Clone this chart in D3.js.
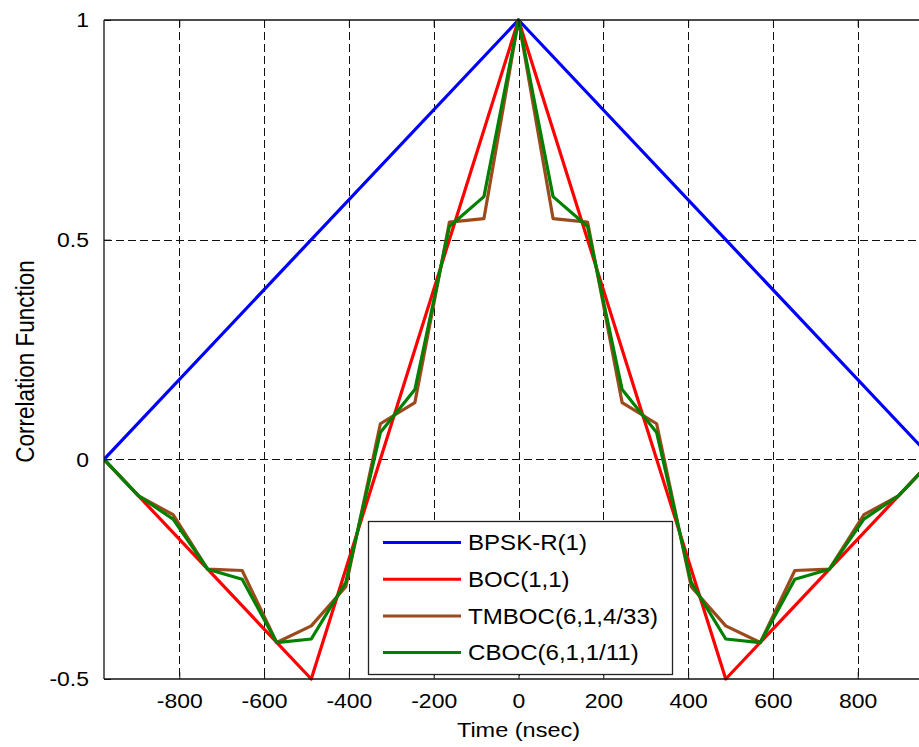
<!DOCTYPE html>
<html lang="en">
<head>
    <meta charset="UTF-8">
    <title>Correlation Function</title>
    <style>
        body { margin: 0; background: #fff; }
        svg { display: block; font-family: "Liberation Sans", Arial, sans-serif; }
    </style>
    <script src="https://d3js.org/d3.v7.min.js"></script>
</head>
<body>
    <div id="chart"></div>
    <script>
        // time axis values (ns), one chip = 977.5 ns, steps of Tc/12
        const timeSteps = [-977.5, -896.0, -814.6, -733.1, -651.7, -570.2, -488.75, -407.3, -325.8, -244.4, -162.9, -81.5, 0,
                           81.5, 162.9, 244.4, 325.8, 407.3, 488.75, 570.2, 651.7, 733.1, 814.6, 896.0, 977.5];

        const bpskTime = [-977.5, 0, 977.5];
        const bpskValues = [0, 1, 0];

        const bocTime = [-977.5, -488.75, 0, 488.75, 977.5];
        const bocValues = [0, -0.5, 1, -0.5, 0];

        const tmbocValues = [0, -0.083, -0.126, -0.25, -0.253, -0.417, -0.379, -0.290, 0.081, 0.129, 0.540, 0.548, 1,
                             0.548, 0.540, 0.129, 0.081, -0.290, -0.379, -0.417, -0.253, -0.25, -0.126, -0.083, 0];

        const cbocValues = [0, -0.083, -0.136, -0.25, -0.273, -0.417, -0.409, -0.280, 0.061, 0.159, 0.530, 0.598, 1,
                            0.598, 0.530, 0.159, 0.061, -0.280, -0.409, -0.417, -0.273, -0.25, -0.136, -0.083, 0];

        const xTicks = [-800, -600, -400, -200, 0, 200, 400, 600, 800];
        const yTicks = [-0.5, 0, 0.5, 1];

        const seriesNames = ["BPSK-R(1)", "BOC(1,1)", "TMBOC(6,1,4/33)", "CBOC(6,1,1/11)"];
        const seriesColors = ["#0000ff", "#ff0000", "#9c4a1c", "#008000"];

        const width = 919;
        const height = 747;
        const margin = { top: 20, right: -14, bottom: 68, left: 104 };
        const stretch = 1.12; // text in the source looks a bit wide

        const x = d3.scaleLinear()
            .domain([-977.5, 977.5])
            .range([margin.left, width - margin.right]);

        const y = d3.scaleLinear()
            .domain([-0.5, 1])
            .range([height - margin.bottom, margin.top]);

        const svg = d3.select("#chart").append("svg")
            .attr("width", width)
            .attr("height", height);

        svg.append("defs").append("clipPath")
            .attr("id", "plot-clip")
            .append("rect")
            .attr("x", margin.left)
            .attr("y", margin.top - 2)
            .attr("width", width - margin.right - margin.left)
            .attr("height", height - margin.bottom - margin.top + 4);

        // grid
        const grid = svg.append("g")
            .attr("stroke", "#111")
            .attr("stroke-width", 1)
            .attr("stroke-dasharray", "8,4");

        grid.selectAll("line.vx")
            .data(xTicks)
            .enter().append("line")
            .attr("x1", d => Math.round(x(d)) + 0.5)
            .attr("x2", d => Math.round(x(d)) + 0.5)
            .attr("y1", y(1))
            .attr("y2", y(-0.5));

        grid.selectAll("line.hy")
            .data([0, 0.5])
            .enter().append("line")
            .attr("x1", x(-977.5))
            .attr("x2", width)
            .attr("y1", d => Math.round(y(d)) + 0.5)
            .attr("y2", d => Math.round(y(d)) + 0.5);

        // curves
        const line = d3.line()
            .x(d => x(d[0]))
            .y(d => y(d[1]));

        const series = [
            d3.zip(bpskTime, bpskValues),
            d3.zip(bocTime, bocValues),
            d3.zip(timeSteps, tmbocValues),
            d3.zip(timeSteps, cbocValues)
        ];

        svg.append("g")
            .attr("clip-path", "url(#plot-clip)")
            .selectAll("path")
            .data(series)
            .enter().append("path")
            .attr("d", line)
            .attr("fill", "none")
            .attr("stroke", (d, i) => seriesColors[i])
            .attr("stroke-width", 3.2)
            .attr("stroke-linejoin", "round");

        // axes box with inward ticks, plain hyphen for minus
        const plain = d => String(d);
        const axisBottom = svg.append("g")
            .attr("transform", `translate(0,${y(-0.5)})`)
            .call(d3.axisBottom(x).tickValues(xTicks).tickSize(-7).tickPadding(14).tickFormat(plain));
        const axisTop = svg.append("g")
            .attr("transform", `translate(0,${y(1)})`)
            .call(d3.axisTop(x).tickValues(xTicks).tickSize(-7).tickFormat(""));
        const axisLeft = svg.append("g")
            .attr("transform", `translate(${x(-977.5)},0)`)
            .call(d3.axisLeft(y).tickValues(yTicks).tickSize(-7).tickPadding(15).tickFormat(plain));

        [axisBottom, axisTop, axisLeft].forEach(a => {
            a.select(".domain").attr("stroke", "#111").attr("stroke-width", 1.3);
            a.selectAll(".tick line").attr("stroke", "#111");
            a.selectAll(".tick text")
                .attr("font-size", "20.5px")
                .attr("font-family", "Liberation Sans, Arial, sans-serif")
                .attr("fill", "#000");
        });
        axisBottom.select(".domain").attr("d", `M${x(-977.5)},0H${width}`);
        axisTop.select(".domain").attr("d", `M${x(-977.5)},0H${width}`);
        axisLeft.select(".domain").attr("d", `M0,${y(1)}V${y(-0.5)}`);

        // widen tick labels
        axisBottom.selectAll(".tick text")
            .attr("transform", `scale(${stretch},1)`)
            .attr("x", 0);
        axisLeft.selectAll(".tick text")
            .attr("dy", "0.34em")
            .attr("transform", `translate(-15,0) scale(${stretch},1)`)
            .attr("x", 0);

        // legend
        const legend = svg.append("g");
        legend.append("rect")
            .attr("x", 368.5)
            .attr("y", 521.5)
            .attr("width", 304)
            .attr("height", 153)
            .attr("fill", "#fff")
            .attr("stroke", "#222")
            .attr("stroke-width", 1.3);

        const rows = legend.selectAll("g.row")
            .data(seriesNames)
            .enter().append("g")
            .attr("transform", (d, i) => `translate(0,${542.5 + i * 36.7})`);

        rows.append("line")
            .attr("x1", 383)
            .attr("x2", 461)
            .attr("stroke", (d, i) => seriesColors[i])
            .attr("stroke-width", 3);

        rows.append("text")
            .attr("transform", `translate(468,0) scale(${stretch},1)`)
            .attr("dy", "0.36em")
            .attr("font-size", "21.5px")
            .text(d => d);

        // axis labels
        svg.append("text")
            .attr("transform", `translate(${x(0)},737) scale(${stretch},1)`)
            .attr("text-anchor", "middle")
            .attr("font-size", "21px")
            .text("Time (nsec)");

        svg.append("text")
            .attr("transform", `translate(34,${(y(1) + y(-0.5)) / 2 + 12}) rotate(-90) scale(1,${stretch})`)
            .attr("text-anchor", "middle")
            .attr("font-size", "22.5px")
            .text("Correlation Function");
    </script>
</body>
</html>
